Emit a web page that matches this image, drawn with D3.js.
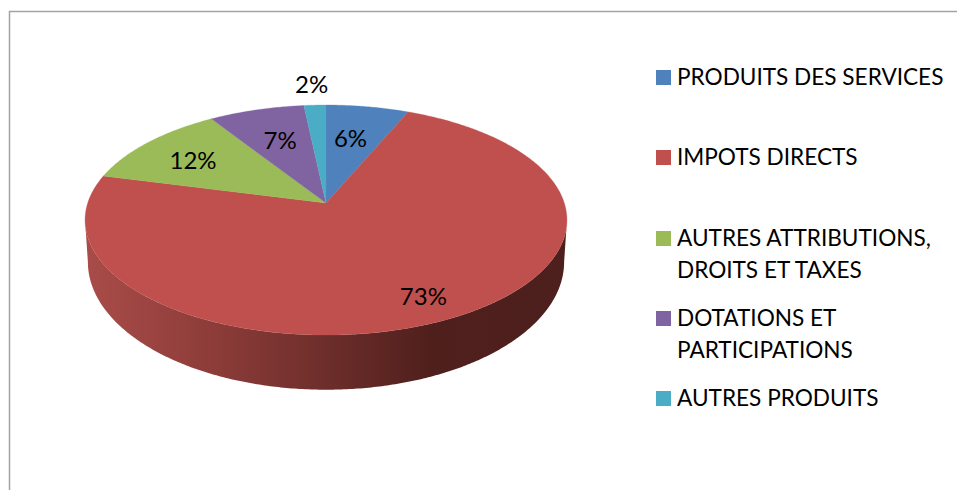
<!DOCTYPE html>
<html>
<head>
<meta charset="utf-8">
<script src="https://cdn.jsdelivr.net/npm/d3@7/dist/d3.min.js"></script>
<style>html,body{margin:0;padding:0;background:#fff}svg{display:block}text{font-family:Lato,"Open Sans",sans-serif;fill:#000}</style>
</head>
<body>
<div id="chart"></div>
<script>
// Data
const categories = ["PRODUITS DES SERVICES", "IMPOTS DIRECTS", "AUTRES ATTRIBUTIONS, DROITS ET TAXES", "DOTATIONS ET PARTICIPATIONS", "AUTRES PRODUITS"];
const values = [6.4, 72.6, 11.9, 7.4, 1.7];
const colors = ["#4f81bd", "#c0504d", "#9bbb59", "#8064a2", "#4bacc6"];

// Layout
const W = 957, H = 490;
const legendLines = [["PRODUITS DES SERVICES"], ["IMPOTS DIRECTS"], ["AUTRES ATTRIBUTIONS,", "DROITS ET TAXES"], ["DOTATIONS ET", "PARTICIPATIONS"], ["AUTRES PRODUITS"]];
const legendBaselines = [85, 165, 246, 326, 406];
const labelRadius = [0.63, 0.83, 0.72, 0.63, 1.24];
const labelDx = [-3, -1, -2, 0, -1];
const labelDy = [-2, -2, 1, -2, -2];
const fontSize = 22.6, labelSize = 24, lineGap = 32;
const persp = 0.148;

const svg = d3.select("#chart").append("svg").attr("width", W).attr("height", H);

// Frame (open to the right and bottom, cropped)
svg.append("path").attr("d", `M9.5,${H}V11.5H${W}`).attr("fill", "none").attr("stroke", "#a3a3a3").attr("stroke-width", 1.5);

const pieGen = d3.pie().sort(null).value(d => d).startAngle(0).endAngle(2 * Math.PI);
const arcs = pieGen(values);
const color = d3.scaleOrdinal().domain(categories).range(colors);

// Perspective projection scales: unit circle -> screen
const topX = d3.scaleLinear().domain([-1, 1]).range([326 - 238.3, 326 + 238.3]);
const topY = d3.scaleLinear().domain([-1, 1]).range([203 + 112.5, 203 - 112.5]);
const botX = d3.scaleLinear().domain([-1, 1]).range([326 - 235.5, 326 + 235.5]);
const botY = d3.scaleLinear().domain([-1, 1]).range([243 + 125, 243 - 125]);

function project(theta, r, sx, sy) {
  const X = r * Math.sin(theta), Y = r * Math.cos(theta), w = 1 + persp * Y;
  return [sx(X / w), sy(Y / w)];
}
function samples(a0, a1) {
  const n = Math.max(2, Math.ceil((a1 - a0) / 0.01));
  return d3.range(n + 1).map(i => a0 + (a1 - a0) * i / n);
}
const line = d3.line();

// Side wall gradient
const grad = svg.append("defs").append("linearGradient").attr("id", "side")
  .attr("gradientUnits", "userSpaceOnUse").attr("x1", 85).attr("x2", 567).attr("y1", 0).attr("y2", 0);
[[0, "#a94c49"], [0.25, "#8f3d3a"], [0.5, "#6d2e2b"], [0.72, "#4f1f1c"], [1, "#4d201d"]].forEach(([o, c]) =>
  grad.append("stop").attr("offset", o).attr("stop-color", c));

// Side wall: front part between the two silhouette tangents
const frontA = Math.acos(-persp), frontB = 2 * Math.PI - frontA;
svg.append("g").selectAll("path")
  .data(arcs.filter(d => d.endAngle > frontA && d.startAngle < frontB))
  .join("path")
  .attr("fill", "url(#side)")
  .attr("d", d => {
    const t = samples(Math.max(d.startAngle, frontA), Math.min(d.endAngle, frontB));
    const a = t.map(v => project(v, 1, topX, topY));
    const b = t.slice().reverse().map(v => project(v, 1, botX, botY));
    return line(a.concat(b)) + "Z";
  });

// Top face
svg.append("g").selectAll("path").data(arcs).join("path")
  .attr("fill", (d, i) => color(categories[i]))
  .attr("stroke", (d, i) => color(categories[i])).attr("stroke-width", 0.3)
  .attr("d", d => {
    const pts = samples(d.startAngle, d.endAngle).map(v => project(v, 1, topX, topY));
    return line([project(0, 0, topX, topY)].concat(pts)) + "Z";
  });

// Percentage labels
const pct = d3.format(".0%");
const total = d3.sum(values);
svg.append("g").selectAll("text").data(arcs).join("text")
  .attr("font-size", labelSize).attr("text-anchor", "middle").attr("dominant-baseline", "central")
  .attr("x", (d, i) => project((d.startAngle + d.endAngle) / 2, labelRadius[i], topX, topY)[0] + labelDx[i])
  .attr("y", (d, i) => project((d.startAngle + d.endAngle) / 2, labelRadius[i], topX, topY)[1] + labelDy[i])
  .text(d => pct(d.value / total));

// Legend
const leg = svg.append("g").selectAll("g").data(categories).join("g");
leg.append("rect").attr("x", 656).attr("width", 15).attr("height", 15)
  .attr("y", (d, i) => legendBaselines[i] - 15).attr("fill", d => color(d));
leg.each(function (d, i) {
  d3.select(this).selectAll("text").data(legendLines[i]).join("text")
    .attr("x", 677).attr("y", (t, j) => legendBaselines[i] + j * lineGap)
    .attr("font-size", fontSize).text(t => t);
});
</script>
</body>
</html>
